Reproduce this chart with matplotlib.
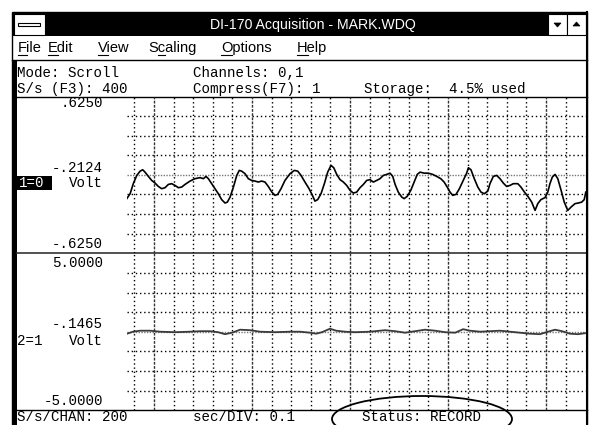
import matplotlib.pyplot as plt
from matplotlib.patches import Rectangle, Ellipse, Polygon
import numpy as np

W, H = 589, 425

# channel 1 (top panel): time in s, volts
ch1_t = [0.361, 0.378, 0.394, 0.412, 0.429, 0.442, 0.454, 0.471, 0.488, 0.505,
         0.522, 0.539, 0.556, 0.573, 0.590, 0.607, 0.624, 0.641, 0.658, 0.684,
         0.709, 0.735, 0.752, 0.765, 0.777, 0.794, 0.811, 0.828, 0.845, 0.862,
         0.874, 0.888, 0.905, 0.922, 0.935,
         0.947, 0.964, 0.981, 0.998, 1.015, 1.032, 1.049, 1.066, 1.083, 1.101,
         1.117, 1.131, 1.148, 1.168, 1.194, 1.216, 1.233, 1.250, 1.270, 1.291,
         1.308, 1.321, 1.335, 1.352, 1.369, 1.386, 1.403, 1.417, 1.432, 1.449,
         1.466, 1.483, 1.500,
         1.517, 1.534, 1.551, 1.568, 1.585, 1.602, 1.619, 1.636, 1.653, 1.670,
         1.687, 1.704, 1.718, 1.730, 1.746, 1.764, 1.776, 1.792, 1.810, 1.827,
         1.843, 1.857, 1.878, 1.899, 1.922, 1.942, 1.963, 1.980, 1.996, 2.010,
         2.024, 2.041, 2.058, 2.078, 2.095,
         2.104, 2.117, 2.134, 2.152, 2.168, 2.185, 2.203, 2.214, 2.231, 2.248,
         2.265, 2.282, 2.299, 2.316, 2.333, 2.356, 2.372, 2.390, 2.410, 2.427,
         2.444, 2.458, 2.474, 2.495, 2.509, 2.520, 2.532, 2.546, 2.560, 2.577,
         2.593, 2.611, 2.628, 2.648, 2.665, 2.682, 2.695, 2.703]
ch1_v = [-0.189, -0.150, -0.070, -0.004, 0.030, 0.041, 0.022, -0.012, -0.044, -0.065,
         -0.092, -0.110, -0.102, -0.076, -0.070, -0.084, -0.102, -0.097, -0.076, -0.049,
         -0.030, -0.022, -0.030, -0.012, -0.030, -0.070, -0.110, -0.150, -0.197, -0.224,
         -0.217, -0.177, -0.097, -0.004, 0.036,
         0.030, 0.010, -0.030, -0.044, -0.049, -0.057, -0.049, -0.057, -0.092, -0.137,
         -0.163, -0.155, -0.110, -0.044, 0.010, 0.036, 0.030, -0.004, -0.057, -0.110,
         -0.163, -0.209, -0.197, -0.150, -0.070, 0.022, 0.076, 0.057, 0.004, -0.038,
         -0.057, -0.084, -0.123,
         -0.145, -0.137, -0.102, -0.076, -0.044, -0.038, -0.057, -0.044, -0.030, -0.004,
         0.004, 0.014, -0.012, -0.076, -0.137, -0.177, -0.189, -0.171, -0.123, -0.057,
         0.004, 0.022, 0.014, 0.014, 0.004, -0.012, -0.030, -0.057, -0.097, -0.137,
         -0.163, -0.155, -0.110, -0.044, 0.014,
         0.057, 0.041, -0.030, -0.097, -0.137, -0.150, -0.129, -0.070, -0.012, -0.004,
         -0.030, -0.065, -0.092, -0.084, -0.070, -0.070, -0.097, -0.137, -0.177, -0.217,
         -0.283, -0.229, -0.197, -0.181, -0.137, -0.070, -0.018, 0.004, -0.030, -0.123,
         -0.217, -0.283, -0.256, -0.229, -0.224, -0.217, -0.197, -0.137]

# channel 2 (bottom panel)
ch2_t = [0.362, 0.393, 0.429, 0.480, 0.531, 0.607, 0.684, 0.735, 0.786, 0.827,
         0.862, 0.898, 0.939, 0.990, 1.041, 1.117, 1.194, 1.245, 1.296, 1.327,
         1.357, 1.398, 1.429, 1.474, 1.526, 1.602, 1.679, 1.730, 1.781, 1.832,
         1.883, 1.934, 1.985, 2.036, 2.077, 2.112, 2.163, 2.214, 2.265, 2.316,
         2.367, 2.418, 2.469, 2.510, 2.546, 2.582, 2.622, 2.663, 2.699]
ch2_v = [-0.127, 0, 0.064, 0.064, 0, -0.032, 0, 0.032, 0.032, -0.032,
         -0.159, -0.064, 0.127, 0.096, 0, -0.032, 0, 0, -0.064, -0.127,
         -0.032, 0.191, 0.064, 0, -0.032, 0, 0.096, 0.032, -0.064, 0.032,
         0.127, 0.064, -0.032, -0.064, 0.159, 0.064, 0, 0.032, 0.064, 0,
         -0.064, -0.127, -0.159, 0, 0.127, 0.032, -0.127, -0.159, -0.096]

ch1_range = 0.625
ch2_range = 5.0
t_left, t_right = 0.362, 2.704

title = 'DI-170 Acquisition - MARK.WDQ'
menu_items = ['File', 'Edit', 'View', 'Scaling', 'Options', 'Help']
menu_keys = [0, 0, 0, 1, 0, 0]
menu_x = [18, 48, 98, 148, 221, 297]

info_text = [('Mode: Scroll', 17, 73), ('Channels: 0,1', 193, 73),
             ('S/s (F3): 400', 17, 89), ('Compress(F7): 1', 193, 89),
             ('Storage:  4.5% used', 364, 89)]
status_text = [('S/s/CHAN: 200', 17, 417), ('sec/DIV: 0.1', 193, 417),
               ('Status: RECORD', 362, 417)]
ch1_labels = [('.6250', 103), ('-.2124', 168), ('Volt', 183), ('-.6250', 244)]
ch2_labels = [('5.0000', 263), ('-.1465', 324), ('Volt', 341), ('-5.0000', 401)]

mono = 'Liberation Mono'
sans = 'Liberation Sans'
fs_mono = 10.2

fig = plt.figure(figsize=(W / 100, H / 100), dpi=100)
bg = fig.add_axes([0, 0, 1, 1])
bg.set_xlim(0, W)
bg.set_ylim(H, 0)
bg.axis('off')

# window frame + title bar
bg.add_patch(Rectangle((12, 12), 575, 420, fc='white', ec='black', lw=1))
bg.add_patch(Rectangle((12, 13), 575, 23, fc='black', ec='black', lw=0))
bg.add_patch(Rectangle((13.5, 14), 31, 21, fc='white', ec='black', lw=0.8))
bg.add_patch(Rectangle((18, 22.5), 22, 3.5, fc='white', ec='black', lw=0.8))
bg.add_patch(Rectangle((548, 14), 18.5, 21, fc='white', ec='black', lw=0.8))
bg.add_patch(Rectangle((567, 14), 19, 21, fc='white', ec='black', lw=0.8))
bg.add_patch(Polygon([[554, 23], [561, 23], [557.5, 27]], fc='black', ec='black', lw=0.5))
bg.add_patch(Polygon([[573, 26], [580, 26], [576.5, 22]], fc='black', ec='black', lw=0.5))
bg.text(313, 25, title, color='white', fontsize=10.2, family=sans,
        ha='center', va='center')

# menu bar
bg.plot([12, 587], [59.5, 59.5], color='black', lw=1)
fig.canvas.draw()
r = fig.canvas.get_renderer()
for s, k, x in zip(menu_items, menu_keys, menu_x):
    bg.text(x, 47.5, s, fontsize=10.5, family=sans, ha='left', va='center')
    t0 = bg.text(x, 47.5, s[:k] if k else 'x', fontsize=10.5, family=sans)
    t1 = bg.text(x, 47.5, s[:k + 1], fontsize=10.5, family=sans)
    w0 = t0.get_window_extent(r).width if k else 0
    w1 = t1.get_window_extent(r).width
    t0.remove()
    t1.remove()
    bg.plot([x + w0, x + w1], [54.5, 54.5], color='black', lw=0.8)

# left thick border and separators
bg.add_patch(Rectangle((12.5, 60), 4.5, 370, fc='black', ec='none'))
bg.plot([17, 587], [96.5, 96.5], color='black', lw=1)
bg.plot([17, 587], [253.3, 253.3], color='#333333', lw=1.2)
bg.plot([17, 587], [410, 410], color='black', lw=1)
bg.plot([586.5, 586.5], [12, 425], color='black', lw=1.5)

for s, x, y in info_text + status_text:
    bg.text(x, y, s, fontsize=fs_mono, family=mono, ha='left', va='center')
for s, y in ch1_labels + ch2_labels:
    bg.text(103, y, s, fontsize=fs_mono, family=mono, ha='right', va='center')
bg.add_patch(Rectangle((17, 176), 35, 14, fc='black', ec='none'))
bg.text(19, 183, '1=0', color='white', fontsize=fs_mono, family=mono, va='center')
bg.text(17, 341, '2=1', fontsize=fs_mono, family=mono, va='center')


def panel(top, t, v, rng, col, lw):
    ax = fig.add_axes([127 / W, 1 - (top + 156.8) / H, 459 / W, 156.8 / H])
    ax.set_facecolor('none')
    ax.set_xlim(t_left, t_right)
    ax.set_ylim(-rng, rng)
    ax.axis('off')
    for g in np.arange(0.4, 2.65, 0.1):
        if abs(g * 2 - round(g * 2)) < 1e-6:
            ax.axvline(g, color='#333333', lw=1.0, ls=(0, (2, 1)))
        else:
            ax.axvline(g, color='black', lw=1.0, ls=(0, (1, 2)))
    for h in np.linspace(-rng, rng, 9)[1:-1]:
        if abs(h) < 1e-9:
            ax.axhline(h, color='#777777', lw=1.0, ls=(0, (1, 1)))
        else:
            ax.axhline(h, color='black', lw=1.0, ls=(0, (1, 2)))
    ax.plot(t, v, color=col, lw=lw, solid_joinstyle='round')
    return ax


panel(96.5, ch1_t, ch1_v, ch1_range, 'black', 1.2)
panel(253.3, ch2_t, ch2_v, ch2_range, '#3a3a3a', 1.3)

ov = fig.add_axes([0, 0, 1, 1])
ov.set_facecolor('none')
ov.set_xlim(0, W)
ov.set_ylim(H, 0)
ov.axis('off')
ov.add_patch(Ellipse((422, 419), 180, 46, fill=False, ec='black', lw=1.3))

fig.savefig('out.png', dpi=100)
